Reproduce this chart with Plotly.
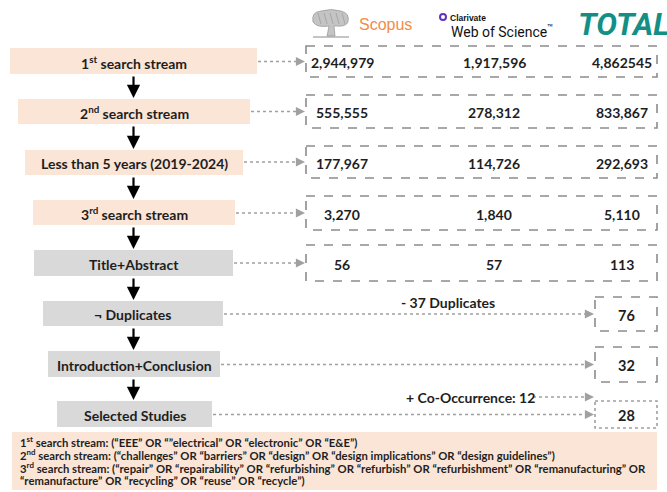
import plotly.graph_objects as go

# ---------------- data ----------------
stages = ["1<sup>st</sup> search stream", "2<sup>nd</sup> search stream",
          "Less than 5 years (2019-2024)", "3<sup>rd</sup> search stream",
          "Title+Abstract", "¬ Duplicates", "Introduction+Conclusion", "Selected Studies"]
scopus = ["2,944,979", "555,555", "177,967", "3,270", "56"]
wos = ["1,917,596", "278,312", "114,726", "1,840", "57"]
total = ["4,862545", "833,867", "292,693", "5,110", "113", "76", "32", "28"]
side_notes = ["- 37 Duplicates", "+ Co-Occurrence: 12"]
footnotes = [
    "1<sup>st</sup> search stream: (“EEE” OR “”electrical” OR “electronic” OR “E&E”)",
    "2<sup>nd</sup> search stream: (“challenges” OR “barriers” OR “design” OR “design implications” OR “design guidelines”)",
    "3<sup>rd</sup> search stream: (“repair” OR “repairability” OR “refurbishing” OR “refurbish” OR “refurbishment” OR “remanufacturing” OR",
    "“remanufacture” OR “recycling” OR “reuse” OR “recycle”)",
]

# ---------------- layout geometry ----------------
W, H = 667, 492
left_boxes = [(10, 257, 48, 74), (18, 250, 99, 124), (25, 243, 150, 175), (33, 235, 200, 225),
              (34, 233, 250, 276), (43, 223, 301, 326), (48, 220, 351, 377), (57, 212, 401, 427)]
right_boxes = [(306, 657, 46, 77), (306, 657, 95, 128), (306, 657, 146, 178), (306, 657, 196, 230),
               (306, 657, 245, 281), (595, 657, 297, 331), (595, 657, 347, 382), (595, 657, 401, 428)]
col_x = [342, 494, 622]
PEACH = "#FBE5D6"
GRAY = "#D9D9D9"
LINEG = "#8C8C8C"
DOTG = "#A0A0A0"
TXT = "#1E1E1E"
FONT = "Lato, Liberation Sans, sans-serif"

fig = go.Figure()
fig.add_trace(go.Scatter(x=[0, W], y=[0, H], mode="markers", marker=dict(opacity=0), hoverinfo="skip",
                         showlegend=False))

shapes = []
ann = []

# stage boxes
for i, (x0, x1, y0, y1) in enumerate(left_boxes):
    shapes.append(dict(type="rect", x0=x0, x1=x1, y0=y0, y1=y1, fillcolor=PEACH if i < 4 else GRAY,
                       line=dict(width=0), layer="below"))
    ann.append(dict(x=(x0 + x1) / 2, y=(y0 + y1) / 2 + 1, text="<b>%s</b>" % stages[i], showarrow=False,
                    font=dict(family=FONT, size=14, color=TXT)))
    if i < len(left_boxes) - 1:
        nx = left_boxes[i + 1]
        ann.append(dict(x=133.5, y=nx[2] - 1, ax=133.5, ay=y1 + 1, xref="x", yref="y", axref="x", ayref="y",
                        text="", showarrow=True, arrowhead=2, arrowsize=1.2, arrowwidth=2.2, arrowcolor="black"))

# result boxes
for i, (x0, x1, y0, y1) in enumerate(right_boxes):
    shapes.append(dict(type="rect", x0=x0, x1=x1, y0=y0, y1=y1, fillcolor="rgba(0,0,0,0)",
                       line=dict(width=1.6, color=LINEG if i < 7 else DOTG, dash="dash" if i < 7 else "dot")))
    cy = (y0 + y1) / 2 + 1
    if i < 5:
        for cx, val in zip(col_x, [scopus[i], wos[i], total[i]]):
            ann.append(dict(x=cx, y=cy, text="<b>%s</b>" % val, showarrow=False,
                            font=dict(family=FONT, size=14, color=TXT)))
    else:
        ann.append(dict(x=(x0 + x1) / 2, y=cy, text="<b>%s</b>" % total[i], showarrow=False,
                        font=dict(family=FONT, size=14.5, color=TXT)))

# dotted connectors
def connector(xa, xb, y):
    shapes.append(dict(type="line", x0=xa, x1=xb - 3, y0=y, y1=y, line=dict(color=DOTG, width=1.5, dash="dot")))
    ann.append(dict(x=xb, y=y, ax=xb - 4, ay=y, xref="x", yref="y", axref="x", ayref="y", text="",
                    showarrow=True, arrowhead=2, arrowsize=1.3, arrowwidth=1.4, arrowcolor=DOTG))

for i in range(8):
    lb, rb = left_boxes[i], right_boxes[i]
    y = (rb[2] + rb[3]) / 2 if i < 5 else (lb[2] + lb[3]) / 2 + 0.5
    connector(lb[1] + 1, rb[0] - 1, y)
connector(533, 594, 397)

ann.append(dict(x=448, y=302, text="<b>%s</b>" % side_notes[0], showarrow=False,
                font=dict(family=FONT, size=14, color=TXT)))
ann.append(dict(x=470, y=397, text="<b>%s</b>" % side_notes[1], showarrow=False,
                font=dict(family=FONT, size=14, color=TXT)))

# footnote box
shapes.append(dict(type="rect", x0=12, x1=657, y0=432, y1=490, fillcolor=PEACH, line=dict(width=0),
                   layer="below"))
for k, t in enumerate(footnotes):
    ann.append(dict(x=18, y=441 + 13 * k, text="<b>%s</b>" % t, showarrow=False, xanchor="left",
                    font=dict(family=FONT, size=11.3, color=TXT)))

# ---------------- logos (approximate) ----------------
shapes.append(dict(type="path", path="M 313 22 Q 311 12 321 11 Q 331 8 341 11 Q 350 13 348 22 Q 346 27 336 26 L 334 26 L 335 36 L 327 36 L 329 26 Q 317 28 313 22 Z",
                   fillcolor="#C4C4C4", line=dict(color="#8A8A8A", width=0.6)))
for xs in (318, 324, 330, 336, 342):
    shapes.append(dict(type="line", x0=xs, x1=xs + 3, y0=13, y1=24, line=dict(color="#9A9A9A", width=0.7)))
shapes.append(dict(type="line", x0=313, x1=349, y0=37, y1=37, line=dict(color="#8A8A8A", width=1)))
ann.append(dict(x=385, y=24, text="Scopus", showarrow=False,
                font=dict(family="Liberation Sans, Arial, sans-serif", size=16, color="#F28C46")))
shapes.append(dict(type="circle", x0=440, x1=446, y0=14, y1=20, line=dict(color="#5E33BF", width=2)))
ann.append(dict(x=448, y=17.5, text="<b>Clarivate</b>", showarrow=False, xanchor="left",
                font=dict(family="Liberation Sans, Arial, sans-serif", size=8.5, color="#111")))
ann.append(dict(x=449, y=31, text="Web of Science<sup>™</sup>", showarrow=False, xanchor="left",
                font=dict(family="Roboto, Liberation Sans, sans-serif", size=14, color="#111")))
ann.append(dict(x=576, y=24, text="<b><i>TOTAL</i></b>", showarrow=False, xanchor="left",
                font=dict(family="Roboto, Liberation Sans, sans-serif", size=31, color="#138F86")))

fig.update_layout(
    width=W, height=H, margin=dict(l=0, r=0, t=0, b=0),
    plot_bgcolor="white", paper_bgcolor="white", showlegend=False,
    xaxis=dict(range=[0, W], visible=False, fixedrange=True),
    yaxis=dict(range=[H, 0], visible=False, fixedrange=True),
    shapes=shapes, annotations=ann,
)
fig.write_html("out.html", config={"displayModeBar": False},
               post_script="document.body.style.margin='0';document.body.style.overflow='hidden';")
